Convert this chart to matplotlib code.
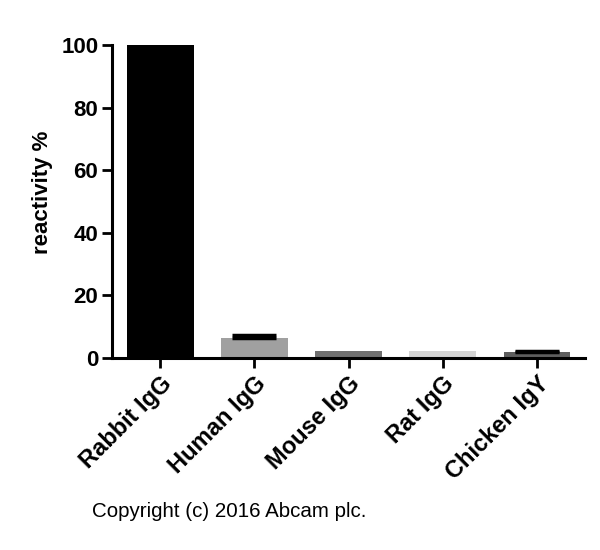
import numpy as np
import matplotlib.pyplot as plt

plt.rcParams['font.family'] = ['Liberation Sans', 'DejaVu Sans']

categorias = ['Rabbit IgG', 'Human IgG', 'Mouse IgG', 'Rat IgG', 'Chicken IgY']
reatividade = [100.0, 6.4, 2.2, 2.2, 1.9]
erro = [0.0, 0.9, 0.0, 0.0, 0.5]
cores = ['#000000', '#a0a0a0', '#707070', '#d4d4d4', '#5e5e5e']

fig = plt.figure(figsize=(6, 5.5), dpi=100)
ax = fig.add_axes([0.187, 0.349, 0.788, 0.569])

x = np.arange(len(categorias))
ax.bar(x, reatividade, width=0.71, color=cores, zorder=2)

# barras de erro só para cima
for xi, yi, ei in zip(x, reatividade, erro):
    if ei > 0:
        ax.errorbar(xi, yi, yerr=[[0], [ei]], fmt='none', ecolor='black',
                    elinewidth=2, capsize=16, capthick=2.5, zorder=3)

ax.set_xlim(-0.51, 4.51)
ax.set_ylim(0, 100)
ax.set_yticks([0, 20, 40, 60, 80, 100])
ax.set_xticks(x)
ax.set_xticklabels(categorias, rotation=45, ha='right', rotation_mode='anchor',
                   fontsize=17, fontweight='bold')
for lab in ax.get_yticklabels():
    lab.set_fontsize(16)
    lab.set_fontweight('bold')
ax.set_ylabel('reactivity %', fontsize=16, fontweight='bold')
ax.yaxis.set_label_coords(-0.125, 0.53)

for s in ['top', 'right']:
    ax.spines[s].set_visible(False)
for s in ['left', 'bottom']:
    ax.spines[s].set_linewidth(2.2)
ax.tick_params(width=2, length=7, pad=3)

fig.text(0.153, 0.06, 'Copyright (c) 2016 Abcam plc.', fontsize=14.8)

plt.savefig('out.png', dpi=100)
